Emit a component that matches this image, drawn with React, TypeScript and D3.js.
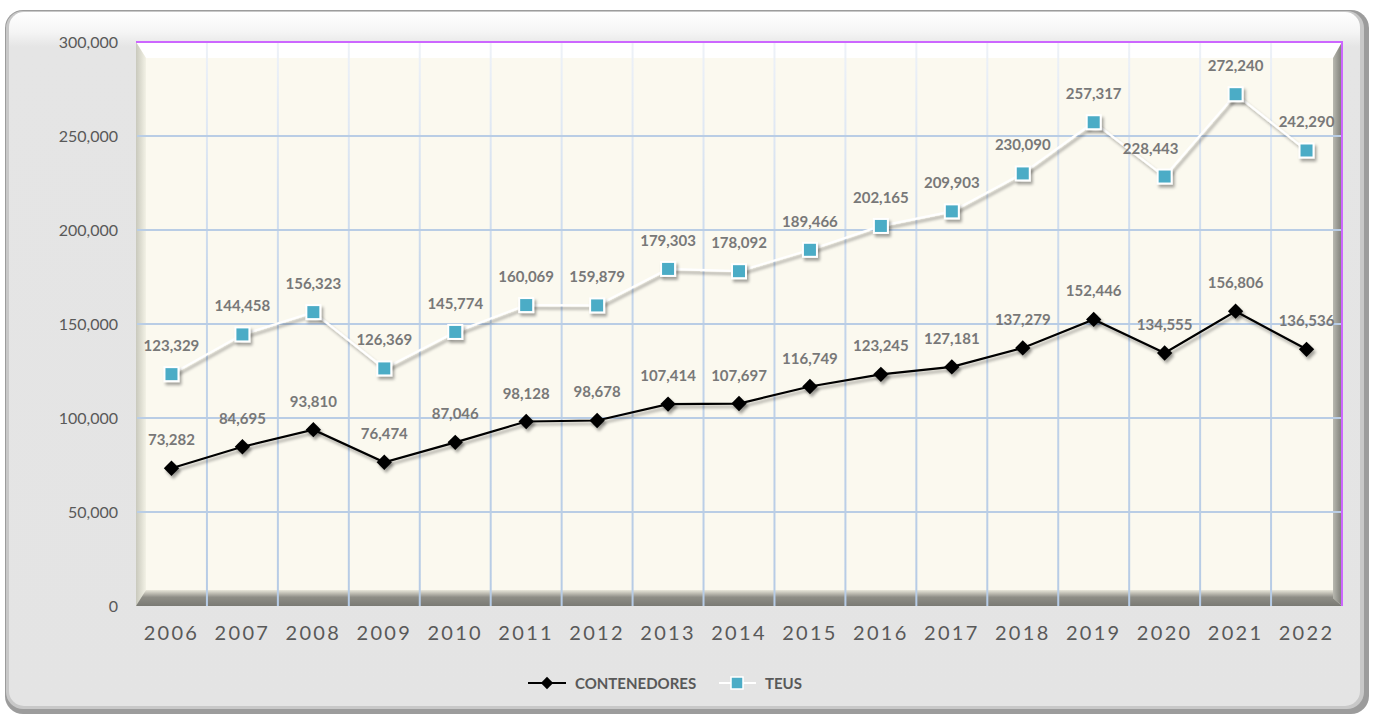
import React from "react";
import * as d3 from "d3";

const years = ["2006", "2007", "2008", "2009", "2010", "2011", "2012", "2013", "2014", "2015", "2016", "2017", "2018", "2019", "2020", "2021", "2022"];
const contenedores = [73282, 84695, 93810, 76474, 87046, 98128, 98678, 107414, 107697, 116749, 123245, 127181, 137279, 152446, 134555, 156806, 136536];
const teus = [123329, 144458, 156323, 126369, 145774, 160069, 159879, 179303, 178092, 189466, 202165, 209903, 230090, 257317, 228443, 272240, 242290];
const yTicks = [0, 50000, 100000, 150000, 200000, 250000, 300000];

const W = 1374;
const H = 717;
const left = 136;
const right = 1342;
const top = 42;
const bottom = 606;

const fmt = d3.format(",");
const font = "Lato, 'Open Sans', sans-serif";

export default function App() {
  const x = d3.scaleBand<string>().domain(years).range([left, right]).padding(0);
  const y = d3.scaleLinear().domain([0, 300000]).range([bottom, top]);
  const cx = (d: string) => (x(d) as number) + x.bandwidth() / 2;

  const lineC = d3.line<number>().x((_, i) => cx(years[i])).y((v) => y(v));
  const boundaries = years.slice(1).map((d) => x(d) as number);

  const diamond = d3.symbol().type(d3.symbolDiamond2).size(150)();

  return (
    <div style={{ position: "fixed", left: 0, top: 0 }}>
      <svg width={W} height={H} style={{ display: "block", background: "#fff" }}>
        <defs>
          <filter id="sh" x="-50%" y="-50%" width="200%" height="200%">
            <feDropShadow dx="2" dy="3" stdDeviation="1.6" floodColor="#000" floodOpacity="0.35" />
          </filter>
          <linearGradient id="panelTop" x1="0" y1="0" x2="0" y2="1">
            <stop offset="0" stopColor="#ffffff" />
            <stop offset="0.03" stopColor="#f4f4f4" />
            <stop offset="0.05" stopColor="#e5e5e5" />
            <stop offset="1" stopColor="#e4e4e4" />
          </linearGradient>
          <linearGradient id="vgrid" gradientUnits="userSpaceOnUse" x1="0" y1={top} x2="0" y2={bottom}>
            <stop offset="0" stopColor="#eef2f8" />
            <stop offset="0.45" stopColor="#c4d5ea" />
            <stop offset="1" stopColor="#b6cbe5" />
          </linearGradient>
          <linearGradient id="rwall" x1="0" y1="0" x2="1" y2="0">
            <stop offset="0" stopColor="#b8b8b0" />
            <stop offset="1" stopColor="#7c7c76" />
          </linearGradient>
          <linearGradient id="lwall" x1="0" y1="0" x2="1" y2="0">
            <stop offset="0" stopColor="#c9c9bd" />
            <stop offset="1" stopColor="#f3f2e6" />
          </linearGradient>
          <linearGradient id="floor" x1="0" y1="0" x2="0" y2="1">
            <stop offset="0" stopColor="#e9e7da" />
            <stop offset="0.45" stopColor="#8e8d86" />
            <stop offset="1" stopColor="#7a7a74" />
          </linearGradient>
        </defs>

        {/* outer panel */}
        <rect x={5} y={10} width={1364} height={704} rx={18} fill="#9c9c9c" />
        <rect x={6} y={11} width={1358} height={698} rx={17} fill="#c8c8c8" />
        <rect x={9} y={12} width={1351} height={694} rx={15} fill="url(#panelTop)" />

        {/* plot box */}
        <rect x={left} y={top} width={right - left} height={bottom - top} fill="#fbf9ef" />
        <polygon points={`${left},${top} ${right},${top} ${right - 9},${top + 16} ${left + 10},${top + 16}`} fill="#ffffff" />
        <polygon points={`${left},${top} ${left + 10},${top + 16} ${left + 10},${bottom - 10} ${left},${bottom}`} fill="url(#lwall)" />
        <polygon points={`${right},${top} ${right},${bottom} ${right - 9},${bottom - 8} ${right - 9},${top + 16}`} fill="url(#rwall)" />
        <polygon points={`${left},${bottom} ${left + 10},${bottom - 16} ${right - 9},${bottom - 16} ${right - 9},${bottom - 8} ${right},${bottom}`} fill="url(#floor)" />

        {/* grid */}
        {boundaries.map((bx) => (
          <line key={bx} x1={bx} x2={bx} y1={top} y2={bottom} stroke="url(#vgrid)" strokeWidth={2} />
        ))}
        {yTicks.slice(1, -1).map((t) => (
          <line key={t} x1={left + 1} x2={right} y1={y(t)} y2={y(t)} stroke="#b9cde5" strokeWidth={2} />
        ))}
        <line x1={left} x2={right + 1} y1={top} y2={top} stroke="#cc66ff" strokeWidth={2} />
        <line x1={right} x2={right} y1={top} y2={bottom} stroke="#cc66ff" strokeWidth={2} />

        {/* y axis labels */}
        {yTicks.map((t) => (
          <text key={t} x={118} y={y(t)} dy="0.35em" textAnchor="end" fontFamily={font} fontSize={16} fill="#595959">
            {fmt(t)}
          </text>
        ))}
        {/* x axis labels */}
        {years.map((d) => (
          <text key={d} x={cx(d)} y={640} textAnchor="middle" fontFamily={font} fontSize={20} letterSpacing={2.3} fill="#595959">
            {d}
          </text>
        ))}

        {/* TEUS series */}
        <path d={lineC(teus) as string} fill="none" stroke="#ffffff" strokeWidth={2.2} filter="url(#sh)" />
        {teus.map((v, i) => (
          <rect key={i} x={cx(years[i]) - 7} y={y(v) - 7} width={14} height={14} fill="#4bacc6" stroke="#ffffff" strokeWidth={2} filter="url(#sh)" />
        ))}
        {/* CONTENEDORES series */}
        <path d={lineC(contenedores) as string} fill="none" stroke="#000" strokeWidth={2.2} filter="url(#sh)" />
        {contenedores.map((v, i) => (
          <path key={i} d={diamond as string} transform={`translate(${cx(years[i])},${y(v)})`} fill="#000" filter="url(#sh)" />
        ))}

        {/* data labels */}
        {teus.map((v, i) => (
          <text key={i} x={cx(years[i]) + (i === 14 ? -14 : 0)} y={y(v) - 23} textAnchor="middle" fontFamily={font} fontWeight="bold" fontSize={15} fill="#787878">
            {fmt(v)}
          </text>
        ))}
        {contenedores.map((v, i) => (
          <text key={i} x={cx(years[i])} y={y(v) - 23} textAnchor="middle" fontFamily={font} fontWeight="bold" fontSize={15} fill="#787878">
            {fmt(v)}
          </text>
        ))}

        {/* legend */}
        <g>
          <line x1={528} x2={566} y1={683} y2={683} stroke="#000" strokeWidth={2} />
          <path d={diamond as string} transform="translate(547,683) scale(0.8)" fill="#000" />
          <text x={575} y={689} fontFamily={font} fontWeight="bold" fontSize={15} fill="#595959">CONTENEDORES</text>
          <line x1={719} x2={756} y1={683} y2={683} stroke="#fff" strokeWidth={2} />
          <rect x={731} y={677} width={12} height={12} fill="#4bacc6" stroke="#fff" strokeWidth={1.5} />
          <text x={765} y={689} fontFamily={font} fontWeight="bold" fontSize={15} fill="#595959">TEUS</text>
        </g>
      </svg>
    </div>
  );
}
